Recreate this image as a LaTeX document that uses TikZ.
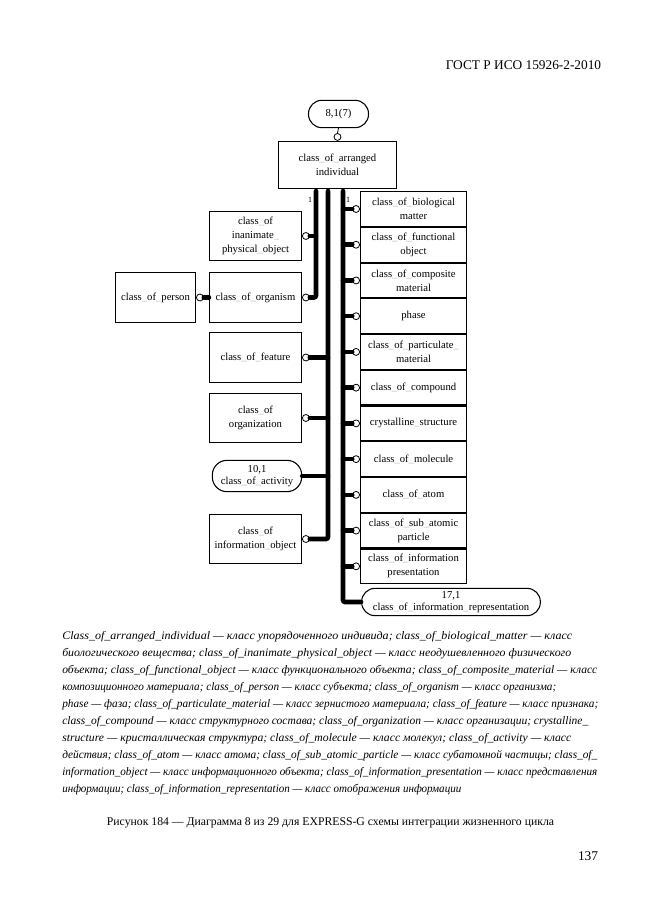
\documentclass[tikz,border=0pt]{standalone}
\usepackage{fontspec}
\usepackage{graphicx}
\setmainfont{Liberation Serif}
\usetikzlibrary{positioning}

\tikzset{
  box/.style={draw, line width=0.8pt, align=center, inner sep=1pt,
    font=\fontsize{8}{10.5}\selectfont},
  leftbox/.style={box, minimum width=69pt, minimum height=37pt},
  rightbox/.style={box, minimum width=79.5pt, minimum height=26pt},
  pagebox/.style={box, rounded corners=10pt, font=\fontsize{8}{9.5}\selectfont},
  ring/.style={draw, circle, fill=white, line width=0.6pt, inner sep=0pt,
    minimum size=5.2pt},
  trunk/.style={line width=3.4pt, rounded corners=1.5pt, line cap=round},
  card/.style={font=\fontsize{6}{7}\selectfont, inner sep=0pt},
  legline/.style={anchor=west, inner sep=0pt,
    font=\fontsize{8.6}{11}\selectfont\itshape},
}
\newcommand\us{\textcolor{black!30}{\_}}
\newcommand\fitto[2]{\resizebox{#1}{\height}{#2}}

\begin{document}
\begin{tikzpicture}[x=0.75pt, y=-0.75pt, node distance=0pt]
\useasboundingbox (0,0) rectangle (661,913);

% page head
\node[font=\fontsize{10}{12}\selectfont] (head) at (523.5,65) {ГОСТ Р ИСО 15926-2-2010};

% top of the diagram
\node[pagebox, minimum width=45pt, minimum height=20.5pt] (top) at (338.5,114) {8,1(7)};
\node[box, minimum width=88.5pt, minimum height=35.5pt] (arr) at (337.5,165)
  {class\us of\us arranged\\individual};
\node[ring, anchor=south] (r-arr) at (arr.north) {};
\draw[line width=0.6pt] (r-arr.north) -- (top.south);

% left column
\node[leftbox] (inan) at (255.5,236) {class\us of\\inanimate\us\\physical\us object};
\node[leftbox] (org) at (255.5,297.5) {class\us of\us organism};
\node[box, minimum width=60pt, minimum height=37.5pt] (person) at (155.5,297.5)
  {class\us of\us person};
\node[leftbox] (feat) at (255.5,357.5) {class\us of\us feature};
\node[leftbox] (orgz) at (255.5,418) {class\us of\\organization};
\node[pagebox, minimum width=67pt, minimum height=23.5pt, rounded corners=11pt] (act)
  at (257,476) {10,1\\class\us of\us activity};
\node[leftbox] (infobj) at (255.5,539) {class\us of\\information\us object};

% right column
\node[rightbox] (bio) at (413.5,209) {class\us of\us biological\\matter};
\node[rightbox, below=of bio] (func) {class\us of\us functional\\object};
\node[rightbox, below=of func] (comp) {class\us of\us composite\\material};
\node[rightbox, below=of comp] (phase) {phase};
\node[rightbox, below=of phase] (part) {class\us of\us particulate\us\\material};
\node[rightbox, below=of part] (cmpd) {class\us of\us compound};
\node[rightbox, below=of cmpd] (cryst) {crystalline\us structure};
\node[rightbox, below=of cryst] (mol) {class\us of\us molecule};
\node[rightbox, below=of mol] (atom) {class\us of\us atom};
\node[rightbox, below=of atom] (sub) {class\us of\us sub\us atomic\\particle};
\node[rightbox, below=of sub] (pres) {class\us of\us information\\presentation};
\node[pagebox, minimum width=134pt, minimum height=20.5pt] (rep) at (451,602)
  {17,1\\class\us of\us information\us representation};

% rings at the subtype ends
\node[ring, anchor=west] (r-inan) at (inan.east) {};
\node[ring, anchor=west] (r-org) at (org.east) {};
\node[ring, anchor=west] (r-person) at (person.east) {};
\node[ring, anchor=west] (r-feat) at (feat.east) {};
\node[ring, anchor=west] (r-orgz) at (orgz.east) {};
\node[ring, anchor=west] (r-infobj) at (infobj.east) {};
\node[ring, anchor=east] (r-bio) at (bio.west) {};
\node[ring, anchor=east] (r-func) at (func.west) {};
\node[ring, anchor=east] (r-comp) at (comp.west) {};
\node[ring, anchor=east] (r-phase) at (phase.west) {};
\node[ring, anchor=east] (r-part) at (part.west) {};
\node[ring, anchor=east] (r-cmpd) at (cmpd.west) {};
\node[ring, anchor=east] (r-cryst) at (cryst.west) {};
\node[ring, anchor=east] (r-mol) at (mol.west) {};
\node[ring, anchor=east] (r-atom) at (atom.west) {};
\node[ring, anchor=east] (r-sub) at (sub.west) {};
\node[ring, anchor=east] (r-pres) at (pres.west) {};

% trunks
\coordinate (t1) at (316,191);
\coordinate (t2) at (328,191);
\coordinate (t3) at (343,191);
\draw[trunk] (t1) |- (r-org.east);
\draw[trunk] (t1 |- r-inan) -- (r-inan.east);
\draw[trunk] (t2) |- (r-infobj.east);
\draw[trunk] (t2 |- r-feat) -- (r-feat.east);
\draw[trunk] (t2 |- r-orgz) -- (r-orgz.east);
\draw[trunk] (t2 |- act) -- (act.east);
\draw[trunk] (t3) |- (rep.west);
\draw[trunk] (t3 |- r-bio) -- (r-bio.west);
\draw[trunk] (t3 |- r-func) -- (r-func.west);
\draw[trunk] (t3 |- r-comp) -- (r-comp.west);
\draw[trunk] (t3 |- r-phase) -- (r-phase.west);
\draw[trunk] (t3 |- r-part) -- (r-part.west);
\draw[trunk] (t3 |- r-cmpd) -- (r-cmpd.west);
\draw[trunk] (t3 |- r-cryst) -- (r-cryst.west);
\draw[trunk] (t3 |- r-mol) -- (r-mol.west);
\draw[trunk] (t3 |- r-atom) -- (r-atom.west);
\draw[trunk] (t3 |- r-sub) -- (r-sub.west);
\draw[trunk] (t3 |- r-pres) -- (r-pres.west);
\draw[trunk] (r-person.east) -- (org.west);
\node[card] (n1) at (310,200) {1};
\node[card] (n2) at (348,200) {1};

% legend
\node[legline] (l1) at (62,637) {\fitto{382.5pt}{Class\_of\_arranged\_individual — класс упорядоченного индивида; class\_of\_biological\_matter — класс}};
\node[legline] (l2) at (62,654) {\fitto{381.75pt}{биологического вещества; class\_of\_inanimate\_physical\_object — класс неодушевленного физического}};
\node[legline] (l3) at (62,671) {\fitto{401.25pt}{объекта; class\_of\_functional\_object — класс функционального объекта; class\_of\_composite\_material — класс}};
\node[legline] (l4) at (62,688) {\fitto{370.5pt}{композиционного материала; class\_of\_person — класс субъекта; class\_of\_organism — класс организма;}};
\node[legline] (l5) at (62,705) {\fitto{402pt}{phase — фаза; class\_of\_particulate\_material — класс зернистого материала; class\_of\_feature — класс признака;}};
\node[legline] (l6) at (62,722) {\fitto{394.5pt}{class\_of\_compound — класс структурного состава; class\_of\_organization — класс организации; crystalline\_}};
\node[legline] (l7) at (62,739) {\fitto{381.75pt}{structure — кристаллическая структура; class\_of\_molecule — класс молекул; class\_of\_activity — класс}};
\node[legline] (l8) at (62,756) {\fitto{401.25pt}{действия; class\_of\_atom — класс атома; class\_of\_sub\_atomic\_particle — класс субатомной частицы; class\_of\_}};
\node[legline] (l9) at (62,773) {\fitto{401.25pt}{information\_object — класс информационного объекта; class\_of\_information\_presentation — класс представления}};
\node[legline] (l10) at (62,790) {\fitto{299.25pt}{информации; class\_of\_information\_representation — класс отображения информации}};

% caption and page number
\node[font=\fontsize{8.8}{11}\selectfont] (cap) at (330.5,823)
  {Рисунок 184 — Диаграмма 8 из 29 для EXPRESS-G схемы интеграции жизненного цикла};
\node[font=\fontsize{10}{12}\selectfont] (page) at (588,856) {137};
\end{tikzpicture}
\end{document}
